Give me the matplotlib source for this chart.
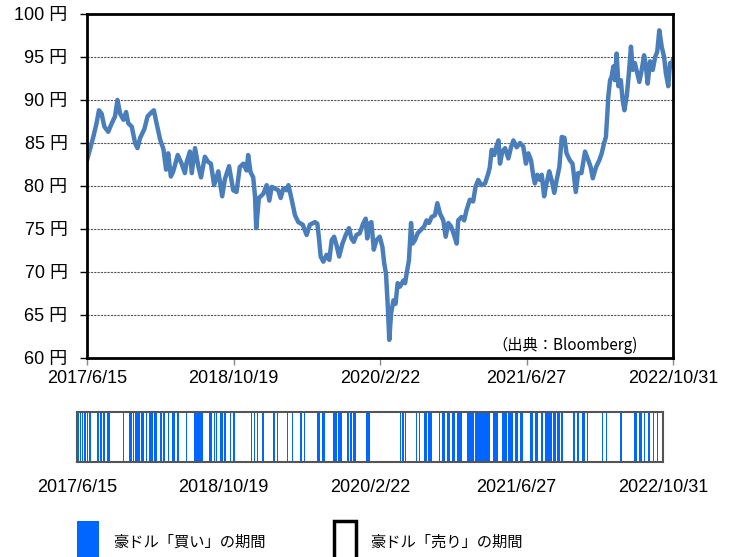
import matplotlib
matplotlib.use("Agg")
import matplotlib.pyplot as plt
import matplotlib.dates as mdates
from matplotlib.patches import Rectangle
import pandas as pd

plt.rcParams['font.family'] = ['Liberation Sans', 'Noto Sans CJK JP']

# AUD/JPY
price_dates = [
    '2017-06-15', '2017-06-25', '2017-07-06', '2017-07-17', '2017-07-25', '2017-08-03', '2017-08-12',
    '2017-08-25', '2017-09-06', '2017-09-17', '2017-09-25', '2017-10-04', '2017-10-15', '2017-10-24',
    '2017-10-31', '2017-11-12', '2017-11-23', '2017-12-01', '2017-12-10', '2017-12-24', '2018-01-04',
    '2018-01-18', '2018-01-25', '2018-02-03', '2018-02-15', '2018-02-26', '2018-03-07', '2018-03-14',
    '2018-03-23', '2018-03-31', '2018-04-15', '2018-04-28', '2018-05-09', '2018-05-15', '2018-05-26',
    '2018-06-01', '2018-06-12', '2018-06-23', '2018-07-02', '2018-07-15', '2018-07-26', '2018-08-04',
    '2018-08-15', '2018-08-29', '2018-09-11', '2018-09-20', '2018-10-04', '2018-10-18', '2018-10-29',
    '2018-11-09', '2018-11-21', '2018-12-02', '2018-12-07', '2018-12-15', '2018-12-24', '2018-12-30',
    '2019-01-03', '2019-01-12', '2019-01-27', '2019-02-07', '2019-02-16', '2019-02-24', '2019-03-07',
    '2019-03-18', '2019-03-26', '2019-04-04', '2019-04-15', '2019-04-21', '2019-05-02', '2019-05-13',
    '2019-05-24', '2019-06-08', '2019-06-21', '2019-07-02', '2019-07-19', '2019-07-27', '2019-08-02',
    '2019-08-07', '2019-08-16', '2019-08-27', '2019-09-05', '2019-09-13', '2019-09-21', '2019-09-30',
    '2019-10-08', '2019-10-19', '2019-10-30', '2019-11-10', '2019-11-18', '2019-11-26', '2019-12-05',
    '2019-12-16', '2019-12-27', '2020-01-05', '2020-01-10', '2020-01-16', '2020-01-24', '2020-02-01',
    '2020-02-10', '2020-02-21', '2020-03-01', '2020-03-07', '2020-03-13', '2020-03-19', '2020-03-24',
    '2020-03-30', '2020-04-07', '2020-04-14', '2020-04-21', '2020-04-29', '2020-05-10', '2020-05-16',
    '2020-05-21', '2020-05-29', '2020-06-05', '2020-06-10', '2020-06-18', '2020-06-27', '2020-07-08',
    '2020-07-19', '2020-07-27', '2020-08-04', '2020-08-13', '2020-08-24', '2020-09-01', '2020-09-10',
    '2020-09-21', '2020-09-29', '2020-10-08', '2020-10-17', '2020-10-25', '2020-11-05', '2020-11-10',
    '2020-11-21', '2020-11-30', '2020-12-08', '2020-12-19', '2020-12-30', '2021-01-07', '2021-01-16',
    '2021-01-27', '2021-02-08', '2021-02-19', '2021-02-24', '2021-03-02', '2021-03-11', '2021-03-16',
    '2021-03-25', '2021-03-30', '2021-04-07', '2021-04-16', '2021-04-27', '2021-05-06', '2021-05-14',
    '2021-05-25', '2021-06-05', '2021-06-16', '2021-06-25', '2021-07-03', '2021-07-12', '2021-07-20',
    '2021-07-25', '2021-08-02', '2021-08-11', '2021-08-17', '2021-08-25', '2021-09-02', '2021-09-11',
    '2021-09-19', '2021-09-28', '2021-10-06', '2021-10-15', '2021-10-23', '2021-11-01', '2021-11-08',
    '2021-11-19', '2021-11-28', '2021-12-02', '2021-12-09', '2021-12-17', '2021-12-28', '2022-01-09',
    '2022-01-20', '2022-01-28', '2022-02-04', '2022-02-15', '2022-02-26', '2022-03-06', '2022-03-14',
    '2022-03-20', '2022-03-25', '2022-03-28', '2022-04-03', '2022-04-08', '2022-04-14', '2022-04-19',
    '2022-04-25', '2022-05-01', '2022-05-09', '2022-05-15', '2022-05-21', '2022-05-29', '2022-06-05',
    '2022-06-12', '2022-06-18', '2022-06-25', '2022-07-03', '2022-07-10', '2022-07-18', '2022-07-26',
    '2022-08-01', '2022-08-07', '2022-08-15', '2022-08-24', '2022-09-01', '2022-09-08', '2022-09-15',
    '2022-09-23', '2022-10-01', '2022-10-07', '2022-10-15', '2022-10-21', '2022-10-28', '2022-10-31',
]
price_values = [
    83.0, 84.3, 85.7, 87.3, 88.8, 88.4, 86.9,
    86.3, 87.3, 88.1, 90.0, 88.4, 87.7, 88.6,
    87.3, 86.9, 85.0, 84.4, 85.6, 86.6, 88.1,
    88.6, 88.8, 87.3, 85.4, 84.3, 81.9, 83.8,
    81.1, 81.7, 83.6, 82.6, 81.5, 82.8, 84.0,
    81.5, 84.4, 82.3, 81.0, 83.4, 82.8, 82.6,
    80.1, 81.7, 78.8, 80.8, 82.3, 79.5, 79.3,
    82.2, 82.6, 81.8, 83.6, 81.6, 81.0, 78.8,
    75.1, 78.6, 79.1, 80.1, 78.3, 79.9, 79.7,
    79.5, 78.6, 79.7, 79.5, 80.1, 78.4, 76.6,
    75.8, 75.5, 74.3, 75.5, 75.8, 75.6, 73.7,
    71.8, 71.2, 72.0, 71.4, 73.7, 74.1, 73.0,
    71.8, 73.3, 74.3, 75.1, 73.9, 73.5, 74.3,
    74.5, 75.6, 76.2, 73.9, 75.6, 75.8, 72.6,
    73.7, 74.1, 72.9, 71.0, 69.8, 66.0, 62.1,
    65.2, 66.7, 66.3, 68.7, 68.3, 69.0, 68.7,
    69.8, 71.4, 75.7, 73.3, 73.7, 74.5, 74.9,
    75.3, 76.0, 75.7, 76.4, 76.6, 78.0, 76.8,
    76.0, 74.1, 75.7, 75.3, 74.5, 73.3, 76.0,
    76.4, 76.0, 77.2, 78.4, 78.2, 79.9, 80.7,
    80.1, 80.3, 81.5, 82.2, 84.2, 83.6, 84.4,
    85.3, 82.6, 84.0, 84.4, 83.2, 84.5, 85.3,
    84.5, 85.0, 84.6, 82.6, 83.8, 83.0, 81.1,
    80.3, 81.3, 80.7, 81.3, 78.8, 80.3, 81.7,
    80.7, 79.2, 80.7, 82.2, 85.7, 85.6, 83.8,
    83.0, 82.6, 81.5, 79.3, 81.5, 81.5, 84.0,
    83.0, 82.2, 80.9, 82.2, 83.0, 83.8, 85.0,
    85.7, 88.5, 90.4, 92.3, 92.7, 93.9, 92.3,
    95.4, 91.6, 92.3, 90.0, 88.8, 90.5, 93.1,
    96.2, 93.5, 94.3, 93.1, 92.1, 93.5, 95.2,
    93.9, 91.9, 94.5, 93.5, 95.0, 95.6, 98.1,
    96.2, 95.0, 93.1, 91.6, 94.3, 93.9, 94.8,
]

# periods where the signal was "buy" (start, end)
buy_start = [
    '2017-06-15', '2017-06-25', '2017-06-30', '2017-07-10', '2017-07-17', '2017-07-26', '2017-08-22',
    '2017-08-31', '2017-09-09', '2017-09-22', '2017-10-06', '2017-10-29', '2017-11-17', '2017-12-06',
    '2017-12-20', '2017-12-26', '2018-01-14', '2018-02-01', '2018-02-12', '2018-02-27', '2018-03-20',
    '2018-03-31', '2018-04-15', '2018-04-28', '2018-05-15', '2018-06-01', '2018-06-14', '2018-07-12',
    '2018-08-31', '2018-09-17', '2018-09-23', '2018-10-07', '2018-10-21', '2018-11-10', '2018-11-19',
    '2019-01-19', '2019-01-29', '2019-02-08', '2019-02-14', '2019-02-24', '2019-04-04', '2019-04-15',
    '2019-04-25', '2019-05-20', '2019-05-26', '2019-06-04', '2019-07-02', '2019-07-15', '2019-07-21',
    '2019-08-27', '2019-09-13', '2019-10-20', '2019-11-08', '2019-12-08', '2019-12-17', '2019-12-28',
    '2020-02-09', '2020-05-31', '2020-06-09', '2020-06-17', '2020-07-25', '2020-08-03', '2020-08-20',
    '2020-09-04', '2020-10-03', '2020-10-09', '2020-10-19', '2020-11-07', '2020-11-22', '2020-12-08',
    '2021-01-11', '2021-02-08', '2021-03-08', '2021-04-10', '2021-05-08', '2021-05-31', '2021-06-22',
    '2021-07-09', '2021-08-11', '2021-08-28', '2021-09-16', '2021-10-01', '2021-10-28', '2021-11-10',
    '2021-11-24', '2022-01-03', '2022-01-17', '2022-01-31', '2022-02-17', '2022-04-08', '2022-04-23',
    '2022-06-09', '2022-07-24', '2022-08-13', '2022-08-28', '2022-09-12', '2022-09-26', '2022-10-10',
    '2022-10-27',
]
buy_end = [
    '2017-06-22', '2017-06-28', '2017-07-06', '2017-07-14', '2017-07-23', '2017-08-01', '2017-08-29',
    '2017-09-06', '2017-09-17', '2017-10-04', '2017-10-08', '2017-10-31', '2017-11-18', '2017-12-15',
    '2017-12-22', '2018-01-12', '2018-01-25', '2018-02-04', '2018-02-24', '2018-03-09', '2018-03-26',
    '2018-04-06', '2018-04-18', '2018-05-09', '2018-05-24', '2018-06-03', '2018-06-20', '2018-08-10',
    '2018-09-09', '2018-09-19', '2018-09-26', '2018-10-18', '2018-10-27', '2018-11-12', '2018-11-25',
    '2019-01-22', '2019-02-03', '2019-02-10', '2019-02-16', '2019-03-04', '2019-04-10', '2019-04-21',
    '2019-04-27', '2019-05-22', '2019-05-28', '2019-06-10', '2019-07-08', '2019-07-18', '2019-07-24',
    '2019-09-07', '2019-09-24', '2019-11-02', '2019-11-19', '2019-12-12', '2019-12-22', '2020-01-06',
    '2020-02-21', '2020-06-06', '2020-06-15', '2020-06-23', '2020-07-27', '2020-08-08', '2020-08-31',
    '2020-09-16', '2020-10-05', '2020-10-12', '2020-10-30', '2020-11-16', '2020-12-03', '2020-12-25',
    '2021-02-05', '2021-03-05', '2021-03-30', '2021-04-27', '2021-05-25', '2021-06-16', '2021-07-03',
    '2021-07-18', '2021-08-22', '2021-09-08', '2021-09-25', '2021-10-23', '2021-11-06', '2021-11-20',
    '2021-12-01', '2022-01-09', '2022-01-24', '2022-02-12', '2022-02-23', '2022-04-14', '2022-04-27',
    '2022-06-16', '2022-08-04', '2022-08-21', '2022-09-02', '2022-09-17', '2022-10-01', '2022-10-15',
    '2022-10-31',
]

tick_dates = ['2017-06-15', '2018-10-19', '2020-02-22', '2021-06-27', '2022-10-31']
tick_labels = ['2017/6/15', '2018/10/19', '2020/2/22', '2021/6/27', '2022/10/31']
y_ticks = [60, 65, 70, 75, 80, 85, 90, 95, 100]

fig = plt.figure(figsize=(7.35, 5.57), dpi=100)

# price chart
ax = fig.add_axes([0.1184, 0.3573, 0.7973, 0.6176])
ax.plot(pd.to_datetime(price_dates), price_values, color='#4a7ebb', lw=3.2,
        solid_joinstyle='round', solid_capstyle='round')
xmin, xmax = pd.Timestamp(tick_dates[0]), pd.Timestamp(tick_dates[-1])
ax.set_xlim(xmin, xmax)
ax.set_ylim(60, 100)
ax.set_yticks(y_ticks)
ax.set_yticklabels([f'{v} 円' for v in y_ticks])
ax.set_xticks(pd.to_datetime(tick_dates))
ax.set_xticklabels(tick_labels)
ax.yaxis.grid(True, linestyle=(0, (2, 1)), color='#555555', lw=0.8)
for s in ax.spines.values():
    s.set_linewidth(2)
    s.set_color('black')
ax.tick_params(axis='y', direction='out', length=5, width=1, pad=9, labelsize=13)
ax.tick_params(axis='x', direction='out', length=5, width=1, pad=4, labelsize=13, color='#888888')
ax.text(0.939, 0.038, '（出典：Bloomberg)', transform=ax.transAxes, ha='right', va='center',
        fontsize=11, family=['Noto Sans CJK JP'])

# buy / sell strip
ax2 = fig.add_axes([0.1048, 0.1706, 0.7973, 0.0898])
for s, e in zip(buy_start, buy_end):
    ax2.axvspan(mdates.date2num(pd.Timestamp(s)), mdates.date2num(pd.Timestamp(e)),
                color='#0066ff', lw=0)
ax2.set_xlim(xmin, xmax)
ax2.set_ylim(0, 1)
ax2.set_yticks([])
ax2.set_xticks(pd.to_datetime(tick_dates))
ax2.set_xticklabels(tick_labels)
ax2.tick_params(axis='x', length=0, pad=12, labelsize=13)
for s in ax2.spines.values():
    s.set_linewidth(1.5)
    s.set_color('#555555')

# legend
fig.add_artist(Rectangle((0.1048, -0.02), 0.0299, 0.0846, transform=fig.transFigure,
                         facecolor='#0066ff', lw=0))
fig.add_artist(Rectangle((0.4544, -0.02), 0.0299, 0.0846, transform=fig.transFigure,
                         facecolor='white', edgecolor='black', lw=2.5))
fig.text(0.1537, 0.027, '豪ドル「買い」の期間', fontsize=11, va='center', family=['Noto Sans CJK JP'])
fig.text(0.5034, 0.027, '豪ドル「売り」の期間', fontsize=11, va='center', family=['Noto Sans CJK JP'])

fig.savefig('out.png', dpi=100)
